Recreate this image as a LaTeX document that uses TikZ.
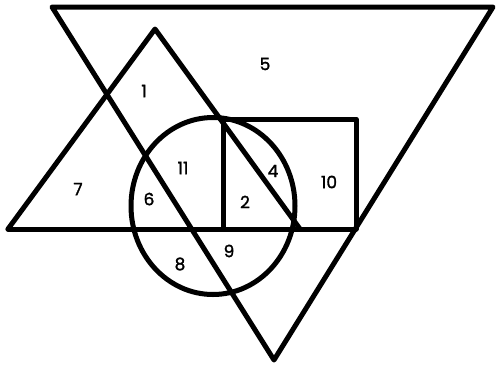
\documentclass[tikz,border=0pt]{standalone}
\usepackage{fontspec}
\setmainfont{Poppins}
\newfontfamily\lblfont[FakeBold=1.5]{Poppins}
\begin{document}
\begin{tikzpicture}[x=1pt,y=-1pt,
  outl/.style={line width=5pt,line join=round,line cap=round},
  lbl/.style={font=\lblfont\fontsize{17}{20}\selectfont,inner sep=0pt}]
\useasboundingbox (0,0) rectangle (496,365);
% inverted triangle
\draw[outl] (52,7) -- (493,7) -- (274,360) -- cycle;
% upright triangle with base extended
\draw[outl] (8,229) -- (155,29) -- (300,229);
\draw[outl] (8,229) -- (356,229);
% rectangle
\draw[outl] (223,229) -- (223,119) -- (356,119) -- (356,229);
% circle
\draw[outl] (213,206) ellipse [x radius=82, y radius=88.5];
% labels
\node[lbl] (n5) at (265,64) {5};
\node[lbl] (n1) at (144,91) {1};
\node[lbl] (n11) at (183,168) {11};
\node[lbl] (n7) at (78,189) {7};
\node[lbl] (n6) at (149,199) {6};
\node[lbl] (n4) at (273,171) {4};
\node[lbl] (n2) at (245,202) {2};
\node[lbl] (n10) at (329,182) {10};
\node[lbl] (n9) at (229,251) {9};
\node[lbl] (n8) at (180,264) {8};
\end{tikzpicture}
\end{document}
